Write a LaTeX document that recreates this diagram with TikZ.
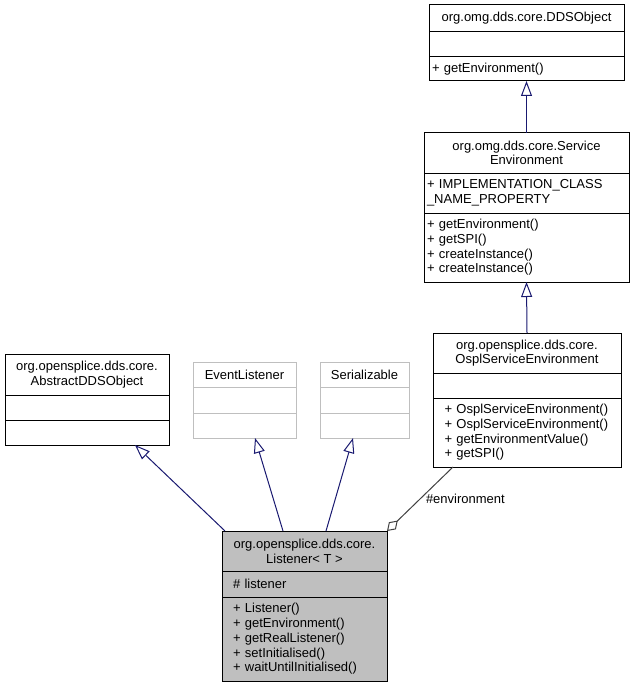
\documentclass[tikz,border=0pt]{standalone}
\usepackage{fontspec}
\setmainfont{Liberation Sans}
\usetikzlibrary{arrows.meta, positioning}
\definecolor{edgeblue}{HTML}{191970}
\definecolor{edgegray}{HTML}{404040}
\definecolor{boxgray}{HTML}{BFBFBF}

\begin{document}
\begin{tikzpicture}[x=1pt, y=-1pt,
    every node/.style={font=\fontsize{13}{14.7}\selectfont, outer sep=0pt, inner sep=3pt},
    part/.style={draw, fill=white, line width=1pt, minimum width=#1, align=left},
    head/.style={part=#1, align=center},
    lines/.style 2 args={part=#1, text width=#1-2*#2, inner xsep=#2},
    ghost/.style={draw=boxgray},
    inherit/.style={draw=edgeblue, line width=1pt, -{Triangle[open, length=15pt, width=11pt]}},
    aggr/.style={draw=edgegray, line width=1pt, {Diamond[open, length=15pt, width=10pt]}-}]
    \useasboundingbox (0,0) rectangle (635,687);

    % Base classes on the right
    \node[head=195, minimum height=27, anchor=north west] (ddsT) at (429,5) {org.omg.dds.core.DDSObject};
    \node[part=195, minimum height=25, below=0pt of ddsT] (ddsA) {};
    \node[lines={195}{3}, minimum height=24, below=0pt of ddsA] (ddsM) {+ getEnvironment()};

    \node[head=205, minimum height=40, anchor=north west] (svcT) at (424,133) {org.omg.dds.core.Service\\Environment};
    \node[lines={205}{3}, minimum height=40, below=0pt of svcT] (svcA) {+ IMPLEMENTATION\_CLASS\\\_NAME\_PROPERTY};
    \node[lines={205}{3}, minimum height=69, below=0pt of svcA] (svcM) {+ getEnvironment()\\+ getSPI()\\+ createInstance()\\+ createInstance()};

    \node[head=188, minimum height=40, anchor=north west] (osplT) at (433,333) {org.opensplice.dds.core.\\OsplServiceEnvironment};
    \node[part=188, minimum height=25, below=0pt of osplT] (osplA) {};
    \node[lines={188}{11.5}, minimum height=69, below=0pt of osplA] (osplM) {+ OsplServiceEnvironment()\\+ OsplServiceEnvironment()\\+ getEnvironmentValue()\\+ getSPI()};

    % Parents of the listener
    \node[head=164, minimum height=41, anchor=north west] (absT) at (5,354) {org.opensplice.dds.core.\\AbstractDDSObject};
    \node[part=164, minimum height=25, below=0pt of absT] (absA) {};
    \node[part=164, minimum height=25, below=0pt of absA] (absM) {};

    \node[head=103, ghost, minimum height=25, anchor=north west] (evT) at (193,362) {EventListener};
    \node[part=103, ghost, minimum height=26, below=0pt of evT] (evA) {};
    \node[part=103, ghost, minimum height=25, below=0pt of evA] (evM) {};

    \node[head=89, ghost, minimum height=25, anchor=north west] (serT) at (320,362) {Serializable};
    \node[part=89, ghost, minimum height=26, below=0pt of serT] (serA) {};
    \node[part=89, ghost, minimum height=25, below=0pt of serA] (serM) {};

    % The listener itself
    \node[head=165, fill=boxgray, minimum height=40, anchor=north west] (lisT) at (222,531) {org.opensplice.dds.core.\\Listener< T >};
    \node[lines={165}{11}, fill=boxgray, minimum height=26, below=0pt of lisT] (lisA) {\# listener};
    \node[lines={165}{11}, fill=boxgray, minimum height=84, below=0pt of lisA] (lisM) {+ Listener()\\+ getEnvironment()\\+ getRealListener()\\+ setInitialised()\\+ waitUntilInitialised()};

    % Relations
    \draw[inherit] (svcT.north) -- (ddsM.south);
    \draw[inherit] (osplT.north) -- (svcM.south);
    \draw[inherit] ([xshift=3pt]lisT.north west) -- ([xshift=-34pt]absM.south east);
    \draw[inherit] ([xshift=-21.5pt]lisT.north) -- ([xshift=10.5pt]evM.south);
    \draw[inherit] ([xshift=21.5pt]lisT.north) -- ([xshift=-11.5pt]serM.south);
    \draw[aggr] (lisT.north east) -- node[right, inner xsep=6pt] (envLbl) {\#environment} ([xshift=20pt]osplM.south west);
\end{tikzpicture}
\end{document}
